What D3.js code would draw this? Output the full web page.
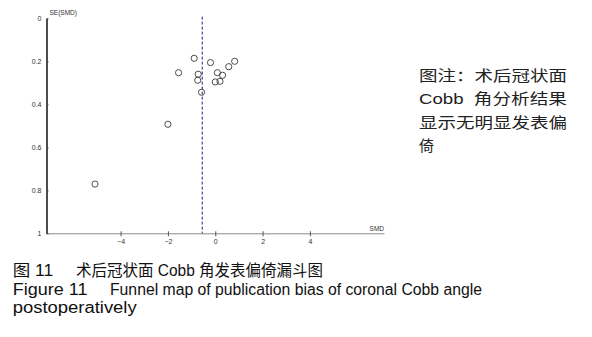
<!DOCTYPE html>
<html>
<head>
<meta charset="utf-8">
<script src="https://cdn.jsdelivr.net/npm/d3@7"></script>
<style>
  body { margin: 0; background: white; }
  svg { display: block; }
  text { white-space: pre; }
</style>
</head>
<body>
<svg id="chart"></svg>
<script>
//study results (SMD, SE of SMD)
const smdValues = [-0.89, -0.20, 0.82, 0.57, -1.55, -0.72, 0.09, 0.31, -0.74, 0.00, 0.20, -0.58, -2.00, -5.08];
const seValues = [0.186, 0.206, 0.200, 0.225, 0.253, 0.260, 0.253, 0.265, 0.288, 0.296, 0.293, 0.344, 0.493, 0.771];
const pooledSMD = -0.55;

const xTicks = [-4, -2, 0, 2, 4];
const yTicks = [0, 0.2, 0.4, 0.6, 0.8, 1];

const noteLines = ["图注：术后冠状面", "Cobb  角分析结果", "显示无明显发表偏", "倚"];

const width = 592;
const height = 337;

const svg = d3.select("#chart")
    .attr("width", width)
    .attr("height", height);

//scales
const x = d3.scaleLinear().domain([-7.13, 7.13]).range([46.5, 384]);
const y = d3.scaleLinear().domain([0, 1]).range([18.3, 233.3]);

const tickFont = "Liberation Sans, Arial, sans-serif";

//x axis (grey line, ticks crossing the line)
const xAxis = svg.append("g")
    .attr("transform", `translate(0,${y(1)})`)
    .call(d3.axisBottom(x).tickValues(xTicks).tickSizeInner(3).tickSizeOuter(0).tickPadding(3));
xAxis.select(".domain").attr("stroke", "#8a8a8a");
xAxis.selectAll(".tick line").attr("y1", -2).attr("stroke", "#555");
xAxis.selectAll(".tick text")
    .style("font", `7px ${tickFont}`)
    .attr("fill", "#333");

//y axis (black line)
const yAxis = svg.append("g")
    .attr("transform", `translate(${x.range()[0]},0)`)
    .call(d3.axisLeft(y).tickValues(yTicks).tickFormat(d3.format("")).tickSizeInner(3).tickSizeOuter(0).tickPadding(2));
yAxis.select(".domain").attr("stroke", "#000").attr("stroke-width", 1.4);
yAxis.selectAll(".tick line").attr("x2", 2).attr("stroke", "#444");
yAxis.selectAll(".tick text")
    .style("font", `7px ${tickFont}`)
    .attr("fill", "#333");

//axis titles
svg.append("text")
    .attr("x", x.range()[0] + 3)
    .attr("y", 15)
    .style("font", `6.5px ${tickFont}`)
    .attr("fill", "#333")
    .text("SE(SMD)");

svg.append("text")
    .attr("x", x.range()[1])
    .attr("y", y(1) - 2)
    .attr("text-anchor", "end")
    .style("font", `6.5px ${tickFont}`)
    .attr("fill", "#333")
    .text("SMD");

//pooled estimate line
svg.append("line")
    .attr("x1", x(pooledSMD))
    .attr("x2", x(pooledSMD))
    .attr("y1", y(-0.008))
    .attr("y2", y(1))
    .attr("stroke", "#1c1c78")
    .attr("stroke-width", 1)
    .attr("stroke-dasharray", "3,2");

//studies
const studies = smdValues.map((d, i) => ({ smd: d, se: seValues[i] }));
svg.selectAll("ellipse.study")
    .data(studies)
    .join("ellipse")
    .attr("class", "study")
    .attr("cx", d => x(d.smd))
    .attr("cy", d => y(d.se))
    .attr("rx", 3.1)
    .attr("ry", 3.1)
    .attr("fill", "none")
    .attr("stroke", "#3a3a3a")
    .attr("stroke-width", 0.9);

//side note (justified lines)
const noteFont = "'Liberation Sans', Arial, 'Noto Sans CJK SC', sans-serif";
svg.selectAll("text.note")
    .data(noteLines)
    .join("text")
    .attr("class", "note")
    .attr("x", 419)
    .attr("y", (d, i) => 80.5 + i * 23.5)
    .attr("textLength", (d, i) => i < 3 ? 148 : null)
    .attr("lengthAdjust", "spacingAndGlyphs")
    .style("font", `15px ${noteFont}`)
    .attr("fill", "#222")
    .text(d => d);

//figure caption
const captionParts = [
    { text: "图 11", x: 12.7, y: 275.5, len: 40.6 },
    { text: "术后冠状面 Cobb 角发表偏倚漏斗图", x: 76, y: 275.5, len: 247 },
    { text: "Figure 11", x: 12.7, y: 294.5, len: 74.7 },
    { text: "Funnel map of publication bias of coronal Cobb angle", x: 110, y: 294.5, len: 372 },
    { text: "postoperatively", x: 12.7, y: 313, len: 124 }
];
svg.selectAll("text.caption")
    .data(captionParts)
    .join("text")
    .attr("class", "caption")
    .attr("x", d => d.x)
    .attr("y", d => d.y)
    .attr("textLength", d => d.len)
    .attr("lengthAdjust", "spacingAndGlyphs")
    .style("font", `16px ${noteFont}`)
    .attr("fill", "#111")
    .text(d => d.text);
</script>
</body>
</html>
